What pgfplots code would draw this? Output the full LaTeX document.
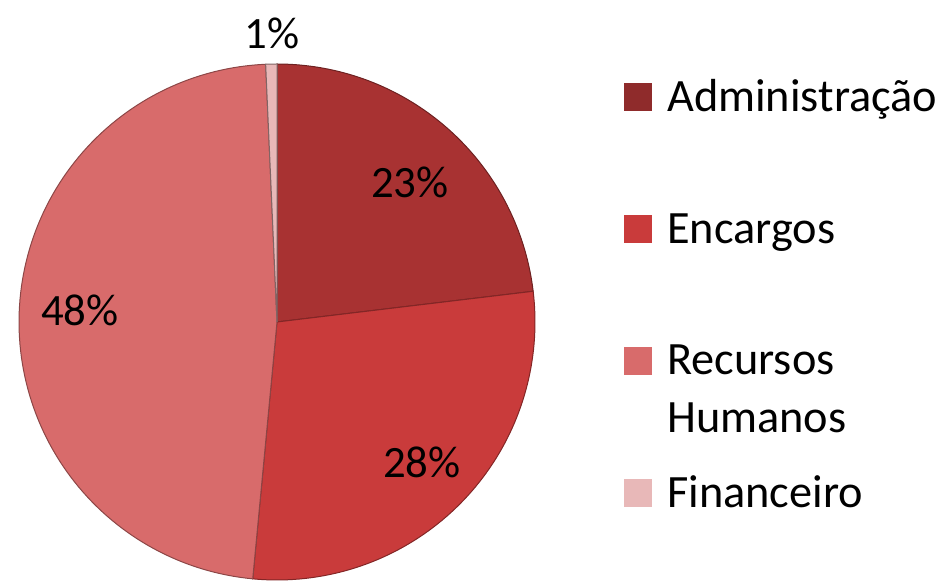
\documentclass[border=0pt]{standalone}
\usepackage{pgfplots}
\pgfplotsset{compat=1.18}
\usepackage{fontspec}
\setmainfont{Carlito}
\definecolor{cAdm}{HTML}{A83232}
\definecolor{cEnc}{HTML}{C93B3B}
\definecolor{cRH}{HTML}{D86B6B}
\definecolor{cFin}{HTML}{E8B8B8}
% data (percent)
\def\vA{23.1}\def\vB{28.4}\def\vC{47.8}\def\vD{0.7}
\def\R{258}
\pgfmathsetmacro\aA{90}
\pgfmathsetmacro\aB{\aA-3.6*\vA}
\pgfmathsetmacro\aC{\aB-3.6*\vB}
\pgfmathsetmacro\aD{\aC-3.6*\vC}
\pgfmathsetmacro\aE{\aD-3.6*\vD}
\tikzset{big/.style={font=\fontsize{45}{54}\selectfont},
         leg/.style={font=\fontsize{46.5}{56}\selectfont, anchor=base west, inner sep=0pt}}
\begin{document}
\begin{tikzpicture}
\begin{axis}[
  x=1bp, y=1bp,
  xmin=-277, xmax=672, ymin=-260, ymax=322,
  hide axis, clip=false,
]
\path (axis cs:-277,-260) rectangle (axis cs:672,322);
\addplot[fill=cAdm, draw=cAdm!65!black, line width=1pt, domain=\aB:\aA, samples=80, variable=\t]
  ({\R*cos(\t)},{\R*sin(\t)}) -- (0,0) -- cycle;
\addplot[fill=cEnc, draw=cEnc!65!black, line width=1pt, domain=\aC:\aB, samples=80, variable=\t]
  ({\R*cos(\t)},{\R*sin(\t)}) -- (0,0) -- cycle;
\addplot[fill=cRH, draw=cRH!65!black, line width=1pt, domain=\aD:\aC, samples=120, variable=\t]
  ({\R*cos(\t)},{\R*sin(\t)}) -- (0,0) -- cycle;
\addplot[fill=cFin, draw=cFin!55!black, line width=1pt, domain=\aE:\aD, samples=10, variable=\t]
  ({\R*cos(\t)},{\R*sin(\t)}) -- (0,0) -- cycle;
% percentage labels
\node[big] at (axis cs:133,140) {23\%};
\node[big] at (axis cs:145,-140) {28\%};
\node[big] at (axis cs:-197,12) {48\%};
\node[big] at (axis cs:-5,289) {1\%};
% legend
\fill[cAdm!85!black] (axis cs:347,211) rectangle (axis cs:375,239);
\fill[cEnc] (axis cs:347,79) rectangle (axis cs:375,107);
\fill[cRH] (axis cs:347,-53) rectangle (axis cs:375,-25);
\fill[cFin] (axis cs:347,-185) rectangle (axis cs:375,-157);
\node[leg] at (axis cs:390,210) {Administração};
\node[leg] at (axis cs:390,78) {Encargos};
\node[leg] at (axis cs:390,-53) {Recursos};
\node[leg] at (axis cs:390,-111) {Humanos};
\node[leg] at (axis cs:390,-186) {Financeiro};
\end{axis}
\end{tikzpicture}
\end{document}
